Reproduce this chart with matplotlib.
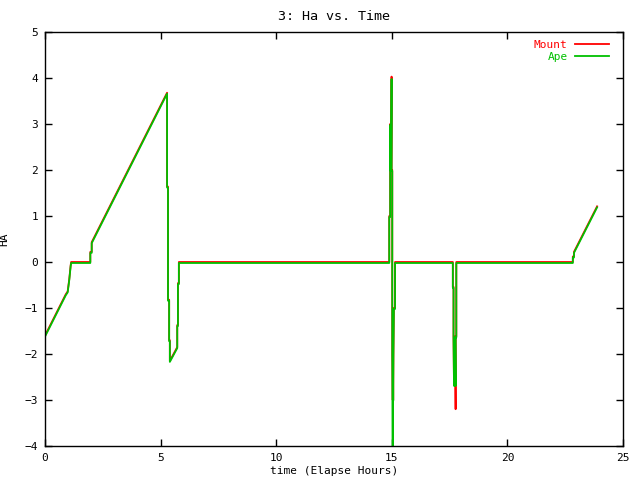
import matplotlib
matplotlib.use("Agg")
import matplotlib.pyplot as plt
from matplotlib.transforms import offset_copy

# elapsed time (hours) and hour angle
t_hours = [0.00, 0.90, 0.98, 1.05, 1.11, 1.13, 1.96, 1.96, 2.02, 2.02, 5.28,
           5.28, 5.32, 5.32, 5.37, 5.37, 5.40, 5.40, 5.72, 5.72, 5.75, 5.75,
           5.79, 5.79, 5.84, 5.84,
           14.89, 14.89, 14.93, 14.93, 14.95, 14.96, 14.97, 14.98, 14.99, 14.99,
           15.02, 15.02, 15.04, 15.05, 15.06, 15.07, 15.09, 15.09, 15.14, 15.14,
           17.64, 17.64, 17.67, 17.67, 17.69, 17.70, 17.72, 17.74, 17.76, 17.76,
           17.79, 17.79,
           22.83, 22.83, 22.88, 22.88, 23.88]
ha_mount = [-1.60, -0.70, -0.64, -0.37, -0.07, 0.00, 0.00, 0.22, 0.22, 0.43, 3.68,
            1.64, 1.64, -0.82, -0.82, -1.70, -1.70, -2.15, -1.85, -1.37, -1.37, -0.46,
            -0.46, 0.00, 0.00, 0.00,
            0.00, 1.00, 1.00, 3.00, 2.00, 3.00, 2.00, 3.00, 4.03, 2.00,
            2.00, -2.00, -3.00, -2.00, -3.00, -2.00, -1.00, -1.00, -1.00, 0.00,
            0.00, -0.54, -0.54, -1.62, -2.67, -1.62, -2.67, -1.62, -3.20, -1.62,
            -1.62, 0.00,
            0.00, 0.12, 0.12, 0.22, 1.21]
ha_ape = [-1.60, -0.70, -0.64, -0.37, -0.07, 0.00, 0.00, 0.22, 0.22, 0.43, 3.68,
          1.64, 1.64, -0.82, -0.82, -1.70, -1.70, -2.15, -1.85, -1.37, -1.37, -0.46,
          -0.46, 0.00, 0.00, 0.00,
          0.00, 1.00, 1.00, 3.00, 2.00, 3.00, 2.00, 3.00, 4.00, 2.00,
          2.00, -2.00, -4.00, -2.00, -3.00, -2.00, -1.00, -1.00, -1.00, 0.00,
          0.00, -0.54, -0.54, -1.62, -2.67, -1.62, -2.67, -1.62, -2.67, -1.62,
          -1.62, 0.00,
          0.00, 0.12, 0.12, 0.22, 1.21]

x_ticks = [0, 5, 10, 15, 20, 25]
y_ticks = [-4, -3, -2, -1, 0, 1, 2, 3, 4, 5]

plt.rcParams['font.family'] = ['DejaVu Sans Mono']
plt.rcParams['font.size'] = 8

fig = plt.figure(figsize=(6.4, 4.8), dpi=100)
ax = fig.add_axes([45/640, 1 - 446/480, (623-45)/640, (446-32)/480])

red, green = '#ff0000', '#00c000'
ax.plot(t_hours, ha_mount, color=red, lw=1.3, label='Mount')
# Ape is drawn one pixel lower, like the gnuplot render
shift = offset_copy(ax.transData, fig=fig, x=0, y=-1, units='dots')
ax.plot(t_hours, ha_ape, color=green, lw=1.3, label='Ape', transform=shift)

ax.set_xlim(0, 25)
ax.set_ylim(-4, 5)
ax.set_xticks(x_ticks)
ax.set_yticks(y_ticks)
ax.tick_params(direction='in', length=5, width=1, top=True, right=True, pad=5)
for s in ax.spines.values():
    s.set_linewidth(1)

ax.set_title('3: Ha vs. Time', pad=9)
ax.set_xlabel('time (Elapse Hours)', labelpad=2)
ax.set_ylabel('HA')
ax.yaxis.set_label_coords(-0.062, 0.5)

leg = ax.legend(loc='upper right', frameon=False, markerfirst=False,
                handlelength=3.0, handletextpad=0.7, labelspacing=0.2,
                borderaxespad=0.1, bbox_to_anchor=(0.985, 0.995))
for txt, c in zip(leg.get_texts(), [red, green]):
    txt.set_color(c)

fig.savefig('out.png', dpi=100)
